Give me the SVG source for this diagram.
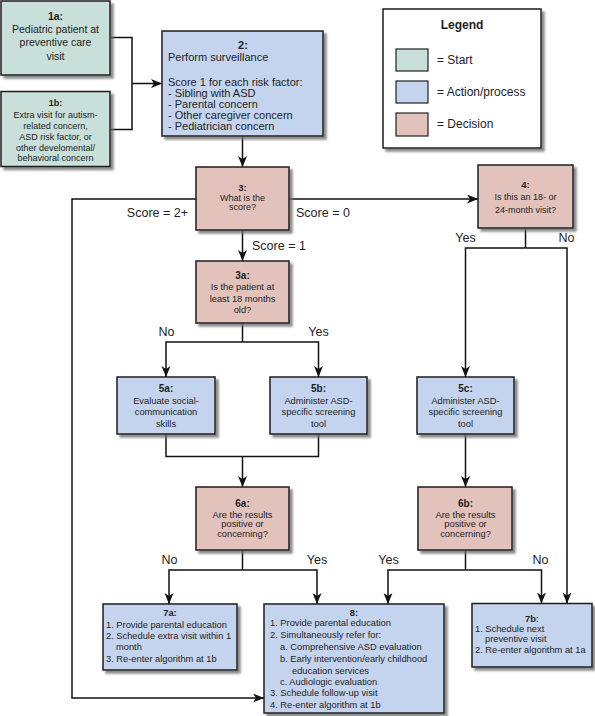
<svg xmlns="http://www.w3.org/2000/svg" width="595" height="716" viewBox="0 0 595 716">
<style>
text{font-family:"Liberation Sans",Arial,sans-serif;fill:#1e1e1e}
.box{stroke:#1e1e1e;stroke-width:1.5;filter:url(#sh)}
.start{fill:#c8dfda}
.act{fill:#c4d4ee}
.dec{fill:#e3c2bc}
.t105{font-size:10.5px;text-anchor:middle}
.t9{font-size:9px;text-anchor:middle}
.t93{font-size:9.3px;text-anchor:middle}
.t11{font-size:11px}
.l93{font-size:9.3px}
.b{font-weight:bold}
.lab{font-size:12.5px}
.leg{font-size:12px}
.con line,.con polyline{stroke:#111;stroke-width:1.5;fill:none}
.arr{marker-end:url(#ah)}
</style>
<defs>
<filter id="sh" x="-10%" y="-10%" width="130%" height="130%">
<feDropShadow dx="3" dy="3" stdDeviation="1" flood-color="#6e6e6e" flood-opacity="0.8"/>
</filter>
<marker id="ah" markerUnits="userSpaceOnUse" markerWidth="12" markerHeight="10" refX="11" refY="4.5" orient="auto">
<path d="M0,0 L11,4.5 L0,9 L3,4.5 z" fill="#111"/>
</marker>
</defs>

<g id="legend">
<rect class="box" x="383" y="9" width="158" height="139" fill="#fff"/>
<text class="leg b" x="462" y="29" text-anchor="middle">Legend</text>
<rect x="396" y="49" width="32" height="22" class="start" stroke="#1e1e1e" stroke-width="1.2"/>
<text class="leg" x="437" y="64.3">= Start</text>
<rect x="396" y="81" width="32" height="22" class="act" stroke="#1e1e1e" stroke-width="1.2"/>
<text class="leg" x="437" y="96.3">= Action/process</text>
<rect x="396" y="113" width="32" height="23" class="dec" stroke="#1e1e1e" stroke-width="1.2"/>
<text class="leg" x="437" y="128.3">= Decision</text>
</g>

<g class="con" id="connectors">
<polyline points="110,37.5 132,37.5 132,129.5 110,129.5"/>
<line class="arr" x1="132" y1="83.5" x2="162" y2="83.5"/>
<line class="arr" x1="242.5" y1="136" x2="242.5" y2="167"/>
<line class="arr" x1="289" y1="199" x2="478" y2="199"/>
<polyline class="arr" points="196,199 72,199 72,698 264,698"/>
<line class="arr" x1="242.5" y1="230" x2="242.5" y2="261"/>
<line x1="242.5" y1="323" x2="242.5" y2="342"/>
<polyline class="arr" points="242.5,342 166,342 166,377"/>
<polyline class="arr" points="242.5,342 318.5,342 318.5,377"/>
<line x1="525.5" y1="228" x2="525.5" y2="248"/>
<polyline class="arr" points="525.5,248 465.5,248 465.5,377"/>
<polyline class="arr" points="525.5,248 567,248 567,603.5"/>
<polyline points="166,434 166,456.5 318.5,456.5 318.5,434"/>
<line class="arr" x1="242.5" y1="456.5" x2="242.5" y2="487"/>
<line class="arr" x1="465.5" y1="434" x2="465.5" y2="487"/>
<line x1="242.5" y1="550" x2="242.5" y2="570"/>
<polyline class="arr" points="242.5,570 169,570 169,604"/>
<polyline class="arr" points="242.5,570 317,570 317,604"/>
<line x1="465.5" y1="550" x2="465.5" y2="570"/>
<polyline class="arr" points="465.5,570 388,570 388,604"/>
<polyline class="arr" points="465.5,570 541.5,570 541.5,603.5"/>
<text class="lab" x="188" y="217" text-anchor="end">Score = 2+</text>
<text class="lab" x="296" y="217">Score = 0</text>
<text class="lab" x="252" y="250.4">Score = 1</text>
<text class="lab" x="465.5" y="242.4" text-anchor="middle">Yes</text>
<text class="lab" x="566.5" y="242.4" text-anchor="middle">No</text>
<text class="lab" x="166.5" y="336.4" text-anchor="middle">No</text>
<text class="lab" x="318.5" y="336.4" text-anchor="middle">Yes</text>
<text class="lab" x="169.5" y="564.4" text-anchor="middle">No</text>
<text class="lab" x="317" y="564.4" text-anchor="middle">Yes</text>
<text class="lab" x="388.5" y="564.4" text-anchor="middle">Yes</text>
<text class="lab" x="540.5" y="564.4" text-anchor="middle">No</text>
</g>

<g id="n1a">
<rect class="box start" x="1" y="1" width="109" height="74"/>
<text class="t105 b" x="55.5" y="19.5">1a:</text>
<text class="t105" x="55.5" y="33">Pediatric patient at</text>
<text class="t105" x="55.5" y="46.3">preventive care</text>
<text class="t105" x="55.5" y="59.5">visit</text>
</g>

<g id="n1b">
<rect class="box start" x="1" y="91.5" width="109" height="75"/>
<text class="t9 b" x="55.5" y="106">1b:</text>
<text class="t9" x="55.5" y="117.5">Extra visit for autism-</text>
<text class="t9" x="55.5" y="129">related concern,</text>
<text class="t9" x="55.5" y="140">ASD risk factor, or</text>
<text class="t9" x="55.5" y="151">other develomental/</text>
<text class="t9" x="55.5" y="161">behavioral concern</text>
</g>

<g id="n2">
<rect class="box act" x="162" y="31" width="161" height="105"/>
<text class="t11 b" x="243" y="49" text-anchor="middle">2:</text>
<text class="t11" x="168" y="61">Perform surveillance</text>
<text class="t11" x="168" y="85.5">Score 1 for each risk factor:</text>
<text class="t11" x="168" y="97.3">- Sibling with ASD</text>
<text class="t11" x="168" y="108.2">- Parental concern</text>
<text class="t11" x="168" y="119">- Other caregiver concern</text>
<text class="t11" x="168" y="129.8">- Pediatrician concern</text>
</g>

<g id="n3">
<rect class="box dec" x="196" y="167" width="93" height="63"/>
<text class="t9 b" x="242.5" y="190.5" style="font-size:9.5px">3:</text>
<text class="t9" x="242.5" y="200.7">What is the</text>
<text class="t9" x="242.5" y="209.5">score?</text>
</g>

<g id="n4">
<rect class="box dec" x="478" y="165" width="95" height="63"/>
<text class="t9 b" x="525.5" y="187.5" style="font-size:9.5px">4:</text>
<text class="t9" x="525.5" y="200.2">Is this an 18- or</text>
<text class="t9" x="525.5" y="213.2">24-month visit?</text>
</g>

<g id="n3a">
<rect class="box dec" x="196" y="261" width="93" height="62"/>
<text class="t93 b" x="242.5" y="278.5" style="font-size:10px">3a:</text>
<text class="t93" x="242.5" y="290">Is the patient at</text>
<text class="t93" x="242.5" y="301.5">least 18 months</text>
<text class="t93" x="242.5" y="313">old?</text>
</g>

<g id="n5a">
<rect class="box act" x="117" y="377" width="98" height="57"/>
<text class="t93 b" x="166" y="391.5" style="font-size:10px">5a:</text>
<text class="t93" x="166" y="404">Evaluate social-</text>
<text class="t93" x="166" y="415.3">communication</text>
<text class="t93" x="166" y="426.6">skills</text>
</g>

<g id="n5b">
<rect class="box act" x="270" y="377" width="97" height="57"/>
<text class="t93 b" x="318.5" y="391.5" style="font-size:10px">5b:</text>
<text class="t93" x="318.5" y="404">Administer ASD-</text>
<text class="t93" x="318.5" y="415.3">specific screening</text>
<text class="t93" x="318.5" y="426.6">tool</text>
</g>

<g id="n5c">
<rect class="box act" x="417" y="377" width="97" height="57"/>
<text class="t93 b" x="465.5" y="391.5" style="font-size:10px">5c:</text>
<text class="t93" x="465.5" y="404">Administer ASD-</text>
<text class="t93" x="465.5" y="415.3">specific screening</text>
<text class="t93" x="465.5" y="426.6">tool</text>
</g>

<g id="n6a">
<rect class="box dec" x="196" y="487" width="93" height="63"/>
<text class="t93 b" x="242.5" y="506.8" style="font-size:10px">6a:</text>
<text class="t93" x="242.5" y="518.2">Are the results</text>
<text class="t93" x="242.5" y="527.4">positive or</text>
<text class="t93" x="242.5" y="536.6">concerning?</text>
</g>

<g id="n6b">
<rect class="box dec" x="418" y="487" width="94" height="63"/>
<text class="t93 b" x="465.5" y="506.8" style="font-size:10px">6b:</text>
<text class="t93" x="465.5" y="518.2">Are the results</text>
<text class="t93" x="465.5" y="527.4">positive or</text>
<text class="t93" x="465.5" y="536.6">concerning?</text>
</g>

<g id="n7a">
<rect class="box act" x="103" y="604" width="134" height="66"/>
<text class="t93 b" x="170" y="616.3">7a:</text>
<text class="l93" x="106" y="628.1">1. Provide parental education</text>
<text class="l93" x="106" y="639.1">2. Schedule extra visit within 1</text>
<text class="l93" x="116" y="649.6">month</text>
<text class="l93" x="106" y="662.3">3. Re-enter algorithm at 1b</text>
</g>

<g id="n8">
<rect class="box act" x="264" y="604" width="180" height="109"/>
<text class="t93 b" x="354" y="616.3">8:</text>
<text class="l93" x="270" y="626.4">1. Provide parental education</text>
<text class="l93" x="270" y="637.7">2. Simultaneously refer for:</text>
<text class="l93" x="280" y="649.6">a. Comprehensive ASD evaluation</text>
<text class="l93" x="280" y="661.9">b. Early intervention/early childhood</text>
<text class="l93" x="292" y="673.5">education services</text>
<text class="l93" x="280" y="685.1">c. Audiologic evaluation</text>
<text class="l93" x="270" y="696.4">3. Schedule follow-up visit</text>
<text class="l93" x="270" y="708.3">4. Re-enter algorithm at 1b</text>
</g>

<g id="n7b">
<rect class="box act" x="472" y="603.5" width="120" height="63.5"/>
<text class="t93 b" x="532" y="622.3">7b:</text>
<text class="l93" x="475" y="632">1. Schedule next</text>
<text class="l93" x="485" y="642.3">preventive visit</text>
<text class="l93" x="475" y="653.3">2. Re-enter algorithm at 1a</text>
</g>
</svg>
